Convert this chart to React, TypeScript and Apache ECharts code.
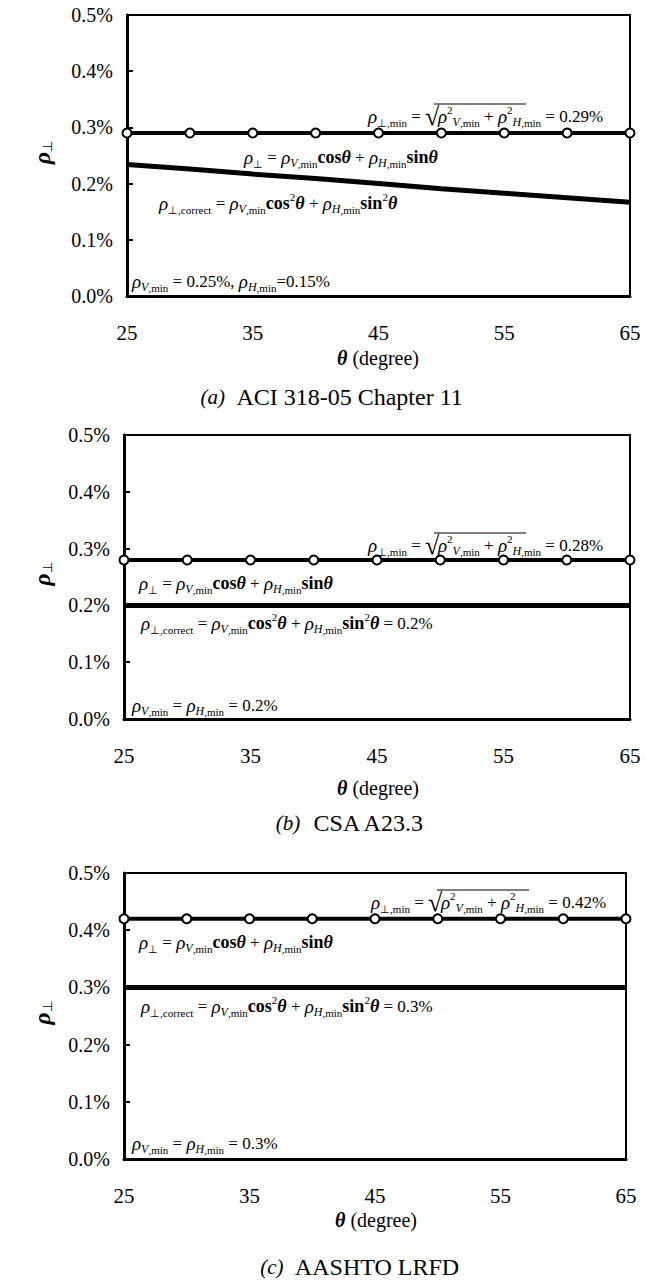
import React, { useEffect, useRef } from "react";
import * as echarts from "echarts";

const F = "Liberation Serif";

// x: angle theta (degrees)
const thetaDeg = [25, 30, 35, 40, 45, 50, 55, 60, 65];
const xTickLabels = [25, 35, 45, 55, 65];
const yTickStep = 0.1;

// panel (a) ACI 318-05
const aMin = [0.29, 0.29, 0.29, 0.29, 0.29, 0.29, 0.29, 0.29, 0.29];
const aCorrect = [0.234, 0.226, 0.217, 0.209, 0.2, 0.191, 0.183, 0.175, 0.167];
// panel (b) CSA A23.3
const bMin = [0.28, 0.28, 0.28, 0.28, 0.28, 0.28, 0.28, 0.28, 0.28];
const bCorrect = [0.2, 0.2, 0.2, 0.2, 0.2, 0.2, 0.2, 0.2, 0.2];
// panel (c) AASHTO LRFD
const cMin = [0.42, 0.42, 0.42, 0.42, 0.42, 0.42, 0.42, 0.42, 0.42];
const cCorrect = [0.3, 0.3, 0.3, 0.3, 0.3, 0.3, 0.3, 0.3, 0.3];

const captions = ["ACI 318-05 Chapter 11", "CSA A23.3", "AASHTO LRFD"];
const captionTags = ["(a)", "(b)", "(c)"];
const minValueText = ["0.29%", "0.28%", "0.42%"];
const correctValueText = ["", "0.2%", "0.3%"];
const givenText = [
  "{r|ρ}{si|V}{s|,min}{n| = 0.25%, }{r|ρ}{si|H}{s|,min}{n|=0.15%}",
  "{r|ρ}{si|V}{s|,min}{n| = }{r|ρ}{si|H}{s|,min}{n| = 0.2%}",
  "{r|ρ}{si|V}{s|,min}{n| = }{r|ρ}{si|H}{s|,min}{n| = 0.3%}",
];

const minSeries = [aMin, bMin, cMin];
const correctSeries = [aCorrect, bCorrect, cCorrect];

const grids = [
  { left: 127, top: 15, width: 503, height: 281 },
  { left: 124, top: 435, width: 506, height: 284 },
  { left: 124, top: 873, width: 502, height: 286 },
];

// annotation anchor positions (left x, middle y)
const annPos = [
  { min: [368, 116], cos: [244, 157], cor: [159, 203], giv: [132, 281], xname: [378, 358], cap: [332, 397] },
  { min: [368, 545], cos: [139, 583], cor: [141, 623], giv: [132, 705], xname: [378, 788], cap: [350, 823] },
  { min: [371, 902], cos: [139, 942], cor: [141, 1006], giv: [132, 1143], xname: [376, 1220], cap: [360, 1267] },
];

const LH = 24;
const base = { fontFamily: F, color: "#000", lineHeight: LH };
const rich: any = {
  r: { ...base, fontStyle: "italic", fontSize: 19, verticalAlign: "middle" },
  n: { ...base, fontSize: 17, verticalAlign: "middle" },
  b: { ...base, fontSize: 18, fontWeight: "bold", verticalAlign: "middle" },
  t: { ...base, fontStyle: "italic", fontSize: 18, fontWeight: "bold", verticalAlign: "middle" },
  s: { ...base, fontSize: 11, verticalAlign: "bottom" },
  si: { ...base, fontStyle: "italic", fontSize: 12, verticalAlign: "bottom" },
  p: { ...base, fontSize: 11, verticalAlign: "top" },
  sq: { ...base, fontSize: 26, verticalAlign: "middle" },
};

function richText(x: number, y: number, text: string) {
  return {
    type: "text",
    x,
    y,
    z: 100,
    style: { text, rich, align: "left", verticalAlign: "middle", fill: "#000", fontFamily: F, fontSize: 17 },
  };
}

export default function App() {
  const ref = useRef<HTMLDivElement>(null);
  useEffect(() => {
    if (!ref.current) return;
    const chart = echarts.init(ref.current, null, { renderer: "svg" });

    const grid = grids.map((g) => ({
      ...g,
      show: true,
      borderColor: "#000",
      borderWidth: 2,
      backgroundColor: "transparent",
      containLabel: false,
    }));

    const xAxis = grids.map((_, i) => ({
      type: "value",
      gridIndex: i,
      min: 25,
      max: 65,
      interval: 5,
      axisLine: { show: true, lineStyle: { color: "#000", width: 3 } },
      axisTick: { show: false },
      splitLine: { show: false },
      axisLabel: {
        margin: 26,
        color: "#000",
        fontFamily: F,
        fontSize: 21,
        formatter: (v: number) => (xTickLabels.includes(v) ? String(v) : ""),
      },
    }));

    const yAxis = grids.map((_, i) => ({
      type: "value",
      gridIndex: i,
      min: 0,
      max: 0.5,
      interval: yTickStep,
      axisLine: { show: true, lineStyle: { color: "#000", width: 3 } },
      axisTick: { show: true, inside: true, length: 6, lineStyle: { color: "#000", width: 2 } },
      splitLine: { show: false },
      axisLabel: {
        margin: 14,
        color: "#000",
        fontFamily: F,
        fontSize: 20,
        formatter: (v: number) => v.toFixed(1) + "%",
      },
    }));

    const series: any[] = [];
    grids.forEach((_, i) => {
      series.push({
        type: "line",
        xAxisIndex: i,
        yAxisIndex: i,
        data: thetaDeg.map((t, k) => [t, correctSeries[i][k]]),
        showSymbol: false,
        symbol: "none",
        lineStyle: { color: "#000", width: 5 },
        z: 3,
      });
      series.push({
        type: "line",
        xAxisIndex: i,
        yAxisIndex: i,
        data: thetaDeg.map((t, k) => [t, minSeries[i][k]]),
        symbol: "circle",
        symbolSize: 9,
        showSymbol: true,
        itemStyle: { color: "#fff", borderColor: "#000", borderWidth: 2 },
        lineStyle: { color: "#000", width: 4 },
        z: 4,
      });
    });

    const graphic: any[] = [];
    grids.forEach((g, i) => {
      const p = annPos[i];
      graphic.push({
        type: "group",
        x: p.min[0],
        y: p.min[1],
        z: 100,
        children: [
          {
            type: "text",
            x: 0,
            y: 0,
            style: { text: "{r|ρ}{s|⊥,min}{n| = }{sq|√}", rich, align: "left", verticalAlign: "middle", fontFamily: F },
          },
          {
            type: "line",
            shape: { x1: 66, y1: -12, x2: 158, y2: -12 },
            style: { stroke: "#000", lineWidth: 1.2 },
          },
          {
            type: "text",
            x: 70,
            y: 0,
            style: {
              text: `{r|ρ}{p|2}{si|V}{s|,min}{n| + }{r|ρ}{p|2}{si|H}{s|,min}{n| = ${minValueText[i]}}`,
              rich,
              align: "left",
              verticalAlign: "middle",
              fontFamily: F,
            },
          },
        ],
      });
      graphic.push(
        richText(
          p.cos[0],
          p.cos[1],
          "{r|ρ}{s|⊥}{n| = }{r|ρ}{si|V}{s|,min}{b|cos}{t|θ}{n| + }{r|ρ}{si|H}{s|,min}{b|sin}{t|θ}"
        )
      );
      graphic.push(
        richText(
          p.cor[0],
          p.cor[1],
          "{r|ρ}{s|⊥,correct}{n| = }{r|ρ}{si|V}{s|,min}{b|cos}{p|2}{t|θ}{n| + }{r|ρ}{si|H}{s|,min}{b|sin}{p|2}{t|θ}" +
            (correctValueText[i] ? `{n| = ${correctValueText[i]}}` : "")
        )
      );
      graphic.push(richText(p.giv[0], p.giv[1], givenText[i]));
      graphic.push({
        type: "text",
        x: p.xname[0],
        y: p.xname[1],
        style: {
          text: "{t|θ}{n| (degree)}",
          fontFamily: F,
          rich: {
            t: { fontFamily: F, fontStyle: "italic", fontWeight: "bold", fontSize: 20, color: "#000" },
            n: { fontFamily: F, fontSize: 20, color: "#000" },
          },
          align: "center",
          verticalAlign: "middle",
        },
      });
      graphic.push({
        type: "text",
        x: 42,
        y: g.top + g.height / 2 - 3,
        rotation: Math.PI / 2,
        style: {
          text: "{r|ρ}{s|⊥}",
          fontFamily: F,
          rich: {
            r: { fontFamily: F, fontStyle: "italic", fontWeight: "bold", fontSize: 24, color: "#000" },
            s: { fontFamily: F, fontSize: 13, color: "#000", verticalAlign: "bottom" },
          },
          align: "center",
          verticalAlign: "middle",
        },
      });
      graphic.push({
        type: "text",
        x: p.cap[0],
        y: p.cap[1],
        style: {
          text: `{t|${captionTags[i]}}{n|  ${captions[i]}}`,
          fontFamily: F,
          rich: {
            t: { fontFamily: F, fontStyle: "italic", fontSize: 21, color: "#000" },
            n: { fontFamily: F, fontSize: 24, color: "#000" },
          },
          align: "center",
          verticalAlign: "middle",
        },
      });
    });

    chart.setOption({
      animation: false,
      backgroundColor: "#fff",
      textStyle: { fontFamily: F },
      grid,
      xAxis,
      yAxis,
      series,
      graphic,
    });
    return () => chart.dispose();
  }, []);

  return (
    <div
      ref={ref}
      style={{ position: "absolute", left: 0, top: 0, width: 646, height: 1283, background: "#fff" }}
    />
  );
}
